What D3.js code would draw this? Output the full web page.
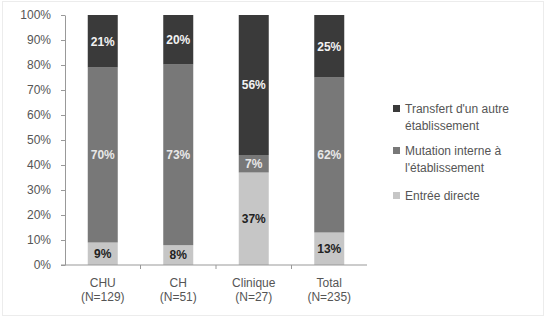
<!DOCTYPE html>
<html>
<head>
<meta charset="utf-8">
<script src="https://cdn.jsdelivr.net/npm/d3@7"></script>
<style>
  body { margin: 0; background: #fff; }
  svg { display: block; font-family: "Liberation Sans", Arial, sans-serif; }
</style>
</head>
<body>
<div class="container"></div>
<script>
// data
var categories = ["CHU", "CH", "Clinique", "Total"];
var counts = ["(N=129)", "(N=51)", "(N=27)", "(N=235)"];
var seriesNames = ["Entrée directe", "Mutation interne à l'établissement", "Transfert d'un autre établissement"];
var entreeDirecte = [9, 8, 37, 13];
var mutationInterne = [70, 73, 7, 62];
var transfertAutre = [21, 20, 56, 25];
var yTicks = [0, 10, 20, 30, 40, 50, 60, 70, 80, 90, 100];

var W = 545, H = 317;
var M = { left: 65, top: 15, plotW: 302, plotH: 250 };
var colors = ["#c6c6c6", "#787878", "#3a3a3a"];
var labelColors = ["#222", "#e8e8e8", "#f2f2f2"];

var rows = categories.map(function (c, i) {
    return { cat: c, s0: entreeDirecte[i], s1: mutationInterne[i], s2: transfertAutre[i] };
});

var stack = d3.stack()
    .keys(["s0", "s1", "s2"])
    .offset(d3.stackOffsetExpand);
var layers = stack(rows);

var svg = d3.select(".container").append("svg")
    .attr("width", W).attr("height", H);

svg.append("rect")
    .attr("x", 2.5).attr("y", 1.5)
    .attr("width", W - 4).attr("height", H - 3)
    .attr("fill", "none").attr("stroke", "#ececec");

var x = d3.scaleBand().domain(categories).range([M.left, M.left + M.plotW]);
var y = d3.scaleLinear().domain([0, 1]).range([M.top + M.plotH, M.top]);
var barW = 30;

// y axis
var yAxis = svg.append("g")
    .attr("transform", `translate(${M.left},0)`)
    .call(d3.axisLeft(y).tickValues(yTicks.map(function (t) { return t / 100; }))
        .tickFormat(function (d) { return Math.round(d * 100) + "%"; })
        .tickSize(4).tickSizeOuter(0).tickPadding(10));
yAxis.select(".domain").attr("stroke", "#999");
yAxis.selectAll(".tick line").attr("stroke", "#999");
yAxis.selectAll("text").attr("fill", "#555").style("font-size", "12px");

// bars
var g = svg.append("g");
g.selectAll("g.layer")
    .data(layers)
    .enter().append("g")
    .attr("class", "layer")
    .attr("fill", function (d, i) { return colors[i]; })
    .selectAll("rect")
    .data(function (d) { return d; })
    .enter().append("rect")
    .attr("x", function (d) { return x(d.data.cat) + x.bandwidth() / 2 - barW / 2; })
    .attr("width", barW)
    .attr("y", function (d) { return y(d[1]); })
    .attr("height", function (d) { return y(d[0]) - y(d[1]); });

// value labels
layers.forEach(function (layer, li) {
    svg.append("g").selectAll("text")
        .data(layer)
        .enter().append("text")
        .attr("x", function (d) { return x(d.data.cat) + x.bandwidth() / 2; })
        .attr("y", function (d) { return (y(d[0]) + y(d[1])) / 2; })
        .attr("dy", "0.36em")
        .attr("text-anchor", "middle")
        .attr("fill", labelColors[li])
        .style("font-size", "12px")
        .style("font-weight", "bold")
        .text(function (d) { return d.data[layer.key] + "%"; });
});

// x axis
var xAxis = svg.append("g")
    .attr("transform", `translate(0,${M.top + M.plotH})`);
xAxis.append("line")
    .attr("x1", M.left - 4).attr("x2", M.left + M.plotW)
    .attr("stroke", "#999");
xAxis.selectAll("line.tk")
    .data(categories.slice(1))
    .enter().append("line")
    .attr("class", "tk")
    .attr("x1", function (d) { return x(d); }).attr("x2", function (d) { return x(d); })
    .attr("y1", 0).attr("y2", 4)
    .attr("stroke", "#999");
xAxis.selectAll("text.cat")
    .data(categories)
    .enter().append("text")
    .attr("class", "cat")
    .attr("x", function (d) { return x(d) + x.bandwidth() / 2; })
    .attr("y", 22)
    .attr("text-anchor", "middle")
    .attr("fill", "#555")
    .style("font-size", "12px")
    .text(function (d) { return d; });
xAxis.selectAll("text.n")
    .data(counts)
    .enter().append("text")
    .attr("class", "n")
    .attr("x", function (d, i) { return x(categories[i]) + x.bandwidth() / 2; })
    .attr("y", 36)
    .attr("text-anchor", "middle")
    .attr("fill", "#555")
    .style("font-size", "12px")
    .text(function (d) { return d; });

// legend (top series first)
var legendLines = [
    ["Transfert d'un autre", "établissement"],
    ["Mutation interne à", "l'établissement"],
    ["Entrée directe"]
];
var legendY = [113, 155, 200];
var legend = svg.append("g").attr("transform", "translate(393,0)");
legendLines.forEach(function (lines, i) {
    var ci = 2 - i;
    legend.append("rect")
        .attr("x", 0).attr("y", legendY[i] - 8)
        .attr("width", 7).attr("height", 7)
        .attr("fill", colors[ci]);
    lines.forEach(function (t, j) {
        legend.append("text")
            .attr("x", 12)
            .attr("y", legendY[i] + j * 17)
            .attr("fill", "#555")
            .style("font-size", "12px")
            .text(t);
    });
});
</script>
</body>
</html>
